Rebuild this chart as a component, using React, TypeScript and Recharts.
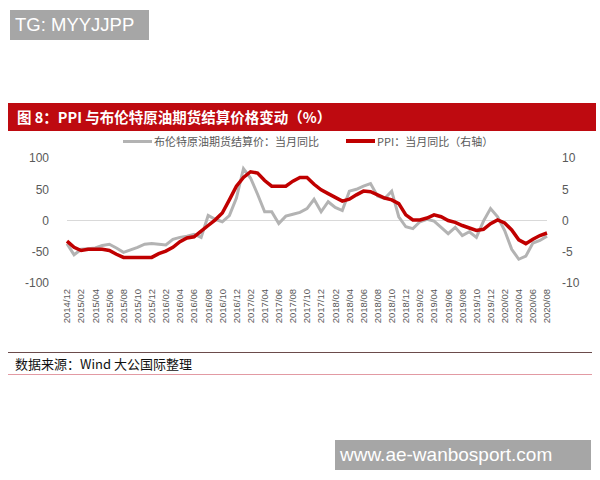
import { LineChart, Line, XAxis, YAxis, ReferenceLine } from 'recharts';

// 月份（2014/12 - 2020/08）
const months = [
  '2014/12',
  '2015/01', '2015/02', '2015/03', '2015/04', '2015/05', '2015/06', '2015/07', '2015/08', '2015/09', '2015/10', '2015/11', '2015/12',
  '2016/01', '2016/02', '2016/03', '2016/04', '2016/05', '2016/06', '2016/07', '2016/08', '2016/09', '2016/10', '2016/11', '2016/12',
  '2017/01', '2017/02', '2017/03', '2017/04', '2017/05', '2017/06', '2017/07', '2017/08', '2017/09', '2017/10', '2017/11', '2017/12',
  '2018/01', '2018/02', '2018/03', '2018/04', '2018/05', '2018/06', '2018/07', '2018/08', '2018/09', '2018/10', '2018/11', '2018/12',
  '2019/01', '2019/02', '2019/03', '2019/04', '2019/05', '2019/06', '2019/07', '2019/08', '2019/09', '2019/10', '2019/11', '2019/12',
  '2020/01', '2020/02', '2020/03', '2020/04', '2020/05', '2020/06', '2020/07', '2020/08',
];

// 布伦特原油期货结算价：当月同比（左轴，%）
const brent = [
  -37,
  -55, -46, -45, -44, -40, -38, -44, -51, -47, -43, -38, -37,
  -38, -39, -30, -27, -25, -22, -27, 8, 2, -2, 8, 36,
  83, 68, 42, 14, 14, -5, 7, 10, 13, 19, 34, 14,
  30, 21, 16, 47, 50, 55, 59, 39, 35, 47, 6, -10,
  -13, -2, 2, -1, -11, -21, -11, -24, -18, -27, -1, 19,
  6, -16, -46, -62, -57, -36, -32, -25,
];

// PPI：当月同比（右轴，%）
const ppi = [
  -3.3,
  -4.3, -4.8, -4.6, -4.6, -4.6, -4.8, -5.4, -5.9, -5.9, -5.9, -5.9, -5.9,
  -5.3, -4.9, -4.3, -3.4, -2.8, -2.6, -1.7, -0.8, 0.1, 1.2, 3.3, 5.5,
  6.9, 7.8, 7.6, 6.4, 5.5, 5.5, 5.5, 6.3, 6.9, 6.9, 5.8, 4.9,
  4.3, 3.7, 3.1, 3.4, 4.1, 4.7, 4.6, 4.1, 3.6, 3.3, 2.7, 0.9,
  0.1, 0.1, 0.4, 0.9, 0.6, 0.0, -0.3, -0.8, -1.2, -1.6, -1.4, -0.5,
  0.1, -0.4, -1.5, -3.1, -3.7, -3.0, -2.4, -2.0,
];

const leftTicks = [-100, -50, 0, 50, 100];
const rightTicks = [-10, -5, 0, 5, 10];

const rows = months.map((m, i) => ({ month: m, brent: brent[i], ppi: ppi[i] }));

const GRAY = '#b3b3b3';
const RED = '#c00000';
const AXIS_TEXT = '#595959';

function XTick(props: any) {
  const { x, y, payload } = props;
  return (
    <g transform={`translate(${x},${y})`}>
      <text
        transform="rotate(-90)"
        textAnchor="end"
        dy="0.35em"
        fontSize={9.5}
        fontFamily="Liberation Sans, Arial, sans-serif"
        fill={AXIS_TEXT}
      >
        {payload.value}
      </text>
    </g>
  );
}

export default function App() {
  return (
    <div
      style={{
        position: 'absolute',
        left: 0,
        top: 0,
        width: 600,
        height: 480,
        background: '#fff',
        overflow: 'hidden',
        fontFamily: '"Noto Sans CJK SC", sans-serif',
      }}
    >
      {/* 水印 */}
      <div
        style={{
          position: 'absolute',
          left: 10,
          top: 10,
          width: 139,
          height: 30,
          background: '#a6a6a6',
          color: '#fff',
          fontFamily: 'Liberation Sans, Arial, sans-serif',
          fontSize: 18.5,
          lineHeight: '30px',
          paddingLeft: 5,
          boxSizing: 'border-box',
        }}
      >
        TG: MYYJJPP
      </div>

      {/* 标题 */}
      <div
        style={{
          position: 'absolute',
          left: 8,
          top: 103,
          width: 588,
          height: 28,
          background: '#be0a10',
          color: '#fff',
          fontSize: 14.5,
          fontWeight: 700,
          lineHeight: '28px',
          paddingLeft: 9,
          boxSizing: 'border-box',
        }}
      >
        图 8：PPI 与布伦特原油期货结算价格变动（%）
      </div>

      {/* 图例 */}
      <div style={{ position: 'absolute', left: 123, top: 134, height: 14, display: 'flex', alignItems: 'center', fontSize: 11, color: AXIS_TEXT }}>
        <span style={{ display: 'inline-block', width: 29, height: 3, background: GRAY, marginRight: 2 }} />
        <span>布伦特原油期货结算价：当月同比</span>
      </div>
      <div style={{ position: 'absolute', left: 346, top: 134, height: 14, display: 'flex', alignItems: 'center', fontSize: 11, color: AXIS_TEXT }}>
        <span style={{ display: 'inline-block', width: 29, height: 4, background: RED, marginRight: 2 }} />
        <span>PPI：当月同比（右轴）</span>
      </div>

      <div style={{ position: 'absolute', left: 0, top: 0 }}>
        <LineChart width={600} height={480} data={rows} margin={{ top: 158, right: 13, bottom: 147, left: 27 }}>
          <XAxis
            dataKey="month"
            interval={1}
            tick={<XTick />}
            tickLine={false}
            axisLine={false}
            tickSize={0}
            tickMargin={6}
            height={50}
          />
          <YAxis
            yAxisId="left"
            domain={[-100, 100]}
            ticks={leftTicks}
            width={40}
            axisLine={false}
            tickLine={false}
            tickSize={0}
            tickMargin={18}
            tick={{ fontSize: 12, fill: AXIS_TEXT, fontFamily: 'Liberation Sans, Arial, sans-serif' }}
          />
          <YAxis
            yAxisId="right"
            orientation="right"
            domain={[-10, 10]}
            ticks={rightTicks}
            width={40}
            axisLine={false}
            tickLine={false}
            tickSize={0}
            tickMargin={15}
            tick={{ fontSize: 12, fill: AXIS_TEXT, fontFamily: 'Liberation Sans, Arial, sans-serif' }}
          />
          <ReferenceLine yAxisId="left" y={0} stroke="#d9d9d9" strokeWidth={1} />
          <Line
            yAxisId="left"
            type="linear"
            dataKey="brent"
            stroke={GRAY}
            strokeWidth={3}
            dot={false}
            isAnimationActive={false}
          />
          <Line
            yAxisId="right"
            type="linear"
            dataKey="ppi"
            stroke={RED}
            strokeWidth={3.5}
            dot={false}
            isAnimationActive={false}
          />
        </LineChart>
      </div>

      {/* 资料来源 */}
      <div style={{ position: 'absolute', left: 8, top: 352, width: 584, height: 1, background: '#6b4b4b' }} />
      <div style={{ position: 'absolute', left: 15, top: 355, fontSize: 13, lineHeight: '18px', color: '#111' }}>
        数据来源：Wind 大公国际整理
      </div>
      <div style={{ position: 'absolute', left: 8, top: 374, width: 584, height: 1, background: '#e29aa3' }} />

      {/* 水印 */}
      <div
        style={{
          position: 'absolute',
          left: 335,
          top: 440,
          width: 256,
          height: 30,
          background: '#a6a6a6',
          color: '#fff',
          fontFamily: 'Liberation Sans, Arial, sans-serif',
          fontSize: 19,
          lineHeight: '30px',
          paddingLeft: 5,
          boxSizing: 'border-box',
        }}
      >
        www.ae-wanbosport.com
      </div>
    </div>
  );
}
